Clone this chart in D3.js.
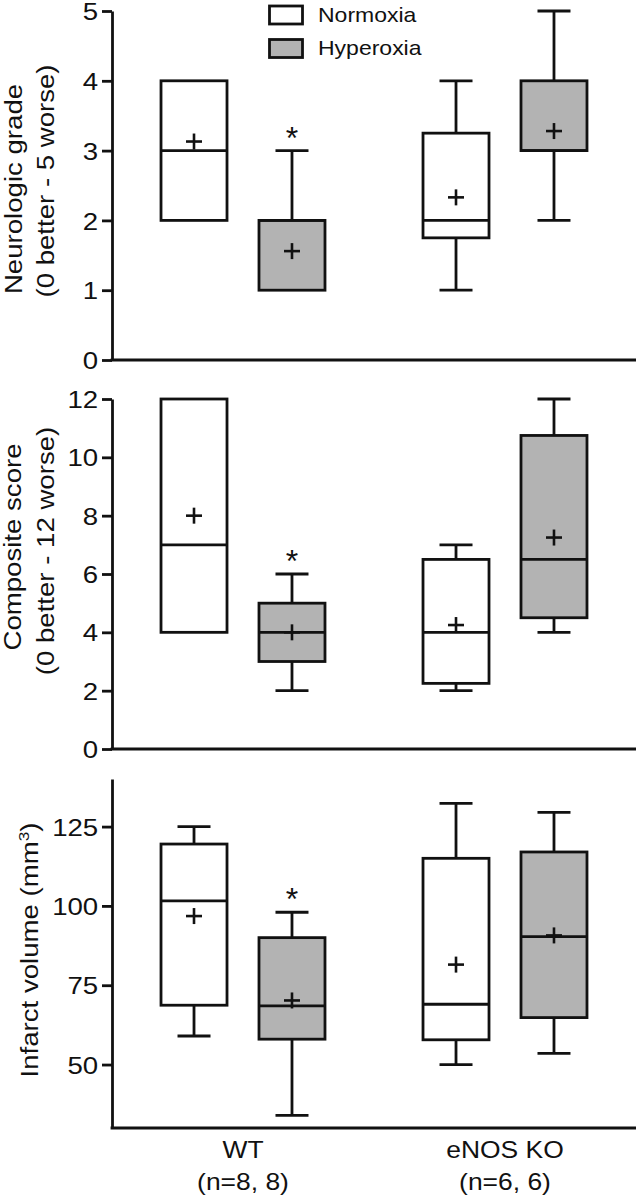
<!DOCTYPE html>
<html>
<head>
<meta charset="utf-8">
<script src="https://cdn.jsdelivr.net/npm/d3@7"></script>
<style>
  html, body { margin: 0; padding: 0; background: #fff; }
  svg { display: block; }
  text { font-family: "Liberation Sans", Arial, sans-serif; fill: #111; }
</style>
</head>
<body>
<svg id="chart" width="638" height="1200"></svg>
<script>
// ---------- data ----------
const groups = ["WT", "eNOS KO"];
const groupNotes = ["(n=8, 8)", "(n=6, 6)"];
const conditions = ["Normoxia", "Hyperoxia"];
// order of boxes: WT-Normoxia, WT-Hyperoxia, eNOS KO-Normoxia, eNOS KO-Hyperoxia
const significant = [false, true, false, false];

const neuroMin  = [2, 1, 1, 2];
const neuroQ1   = [2, 1, 1.75, 3];
const neuroMed  = [3, 2, 2, 3];
const neuroQ3   = [4, 2, 3.25, 4];
const neuroMax  = [4, 3, 4, 5];
const neuroMean = [3.13, 1.56, 2.33, 3.28];
const neuroTicks = [0, 1, 2, 3, 4, 5];

const compMin  = [4, 2, 2, 4];
const compQ1   = [4, 3, 2.25, 4.5];
const compMed  = [7, 4, 4, 6.5];
const compQ3   = [12, 5, 6.5, 10.75];
const compMax  = [12, 6, 7, 12];
const compMean = [8, 4, 4.25, 7.25];
const compTicks = [0, 2, 4, 6, 8, 10, 12];

const infMin  = [59, 34, 50, 53.5];
const infQ1   = [68.7, 58, 57.8, 64.8];
const infMed  = [101.6, 68.5, 69, 90.3];
const infQ3   = [119.5, 90, 115, 117];
const infMax  = [125, 98, 132.3, 129.5];
const infMean = [96.8, 70.2, 81.5, 90.7];
const infTicks = [50, 75, 100, 125];

// ---------- layout ----------
const svg = d3.select("#chart");
const X0 = 112, X1 = 636;
const SX = 1.15;           // horizontal glyph stretch seen in the reference
const GRAY = "#b3b3b3";
const SW = 2.8;

const xGroup = d3.scaleBand().domain(groups).range([X0, X1]).padding(0);
const xCond = d3.scalePoint().domain(conditions).range([0, xGroup.bandwidth()]).padding(0.837);
const boxW = 66, capW = 33;

function boxesFor(mins, q1s, meds, q3s, maxs, means) {
  const out = [];
  groups.forEach((g, gi) => conditions.forEach((c, ci) => {
    const i = gi * 2 + ci;
    out.push({g, c, ci, i, min: mins[i], q1: q1s[i], med: meds[i], q3: q3s[i], max: maxs[i], mean: means[i], sig: significant[i]});
  }));
  return out;
}

const panels = [
  {domain: [0, 5], range: [360, 11], ticks: neuroTicks,
   data: boxesFor(neuroMin, neuroQ1, neuroMed, neuroQ3, neuroMax, neuroMean),
   labels: [{t: "Neurologic grade", x: 21.5, cy: 189}, {t: "(0 better - 5 worse)", x: 54, cy: 181}]},
  {domain: [0, 12], range: [749, 399], ticks: compTicks,
   data: boxesFor(compMin, compQ1, compMed, compQ3, compMax, compMean),
   labels: [{t: "Composite score", x: 20.5, cy: 547}, {t: "(0 better - 12 worse)", x: 53.5, cy: 551}]},
  {domain: [30, 140], range: [1128, 779], ticks: infTicks,
   data: boxesFor(infMin, infQ1, infMed, infQ3, infMax, infMean),
   labels: [{t: "Infarct volume (mm", sup: "3", tail: ")", x: 37.5, cy: 950}]}
];

panels.forEach(p => {
  const y = d3.scaleLinear().domain(p.domain).range(p.range);
  const g = svg.append("g");

  // y axis
  const ax = g.append("g").attr("transform", `translate(${X0},0)`)
    .call(d3.axisLeft(y).tickValues(p.ticks).tickSize(10).tickSizeOuter(0).tickPadding(2).tickFormat(d3.format("d")));
  ax.select(".domain").attr("stroke", "#111").attr("stroke-width", SW);
  ax.selectAll(".tick line").attr("stroke", "#111").attr("stroke-width", SW);
  ax.selectAll(".tick text").attr("font-size", 24).attr("fill", "#111")
    .attr("font-family", "Liberation Sans, Arial, sans-serif")
    .attr("dy", "0.36em")
    .attr("transform", `scale(${SX},1)`);

  // x axis line
  g.append("line").attr("x1", X0 - SW / 2).attr("x2", X1).attr("y1", p.range[0]).attr("y2", p.range[0])
    .attr("stroke", "#111").attr("stroke-width", SW);

  // y label
  p.labels.forEach(l => {
    const t = g.append("text").attr("text-anchor", "middle").attr("font-size", 24)
      .attr("transform", `translate(${l.x},${l.cy}) rotate(-90) scale(${SX},1)`);
    t.append("tspan").text(l.t);
    if (l.sup) {
      t.append("tspan").attr("font-size", 15).attr("dy", -9).text(l.sup);
      t.append("tspan").attr("dy", 9).text(l.tail);
    }
  });

  // boxes
  const bx = d => xGroup(d.g) + xCond(d.c);
  const bg = g.selectAll(".box").data(p.data).join("g").attr("class", "box");
  const ls = sel => sel.attr("stroke", "#111").attr("stroke-width", SW).attr("fill", "none");

  // whiskers
  bg.filter(d => d.max > d.q3).append("line").call(ls)
    .attr("x1", bx).attr("x2", bx).attr("y1", d => y(d.q3)).attr("y2", d => y(d.max));
  bg.filter(d => d.max > d.q3).append("line").call(ls)
    .attr("x1", d => bx(d) - capW / 2).attr("x2", d => bx(d) + capW / 2).attr("y1", d => y(d.max)).attr("y2", d => y(d.max));
  bg.filter(d => d.min < d.q1).append("line").call(ls)
    .attr("x1", bx).attr("x2", bx).attr("y1", d => y(d.q1)).attr("y2", d => y(d.min));
  bg.filter(d => d.min < d.q1).append("line").call(ls)
    .attr("x1", d => bx(d) - capW / 2).attr("x2", d => bx(d) + capW / 2).attr("y1", d => y(d.min)).attr("y2", d => y(d.min));

  // box
  bg.append("rect").attr("x", d => bx(d) - boxW / 2).attr("width", boxW)
    .attr("y", d => y(d.q3)).attr("height", d => y(d.q1) - y(d.q3))
    .attr("fill", d => d.ci === 0 ? "#fff" : GRAY).attr("stroke", "#111").attr("stroke-width", SW);
  // median
  bg.append("line").call(ls)
    .attr("x1", d => bx(d) - boxW / 2).attr("x2", d => bx(d) + boxW / 2).attr("y1", d => y(d.med)).attr("y2", d => y(d.med));
  // mean plus
  bg.append("line").call(ls).attr("stroke-width", 2.6)
    .attr("x1", d => bx(d) - 8).attr("x2", d => bx(d) + 8).attr("y1", d => y(d.mean)).attr("y2", d => y(d.mean));
  bg.append("line").call(ls).attr("stroke-width", 2.6)
    .attr("x1", bx).attr("x2", bx).attr("y1", d => y(d.mean) - 8).attr("y2", d => y(d.mean) + 8);
  // significance
  bg.filter(d => d.sig).append("text").attr("text-anchor", "middle").attr("font-size", 32)
    .attr("x", bx).attr("y", d => y(d.max) - 2).text("*");
});

// x labels
groups.forEach((gname, gi) => {
  const cx = xGroup(gname) + xGroup.bandwidth() / 2;
  svg.append("text").attr("text-anchor", "middle").attr("font-size", 23)
    .attr("transform", `translate(${cx},1158) scale(${SX},1)`).text(gname);
  svg.append("text").attr("text-anchor", "middle").attr("font-size", 23)
    .attr("transform", `translate(${cx},1190) scale(${SX},1)`).text(groupNotes[gi]);
});

// legend
const legend = svg.append("g");
conditions.forEach((c, ci) => {
  const ly = [6, 39.5][ci];
  legend.append("rect").attr("x", 269.5).attr("y", ly).attr("width", 33).attr("height", 18)
    .attr("fill", ci === 0 ? "#fff" : GRAY).attr("stroke", "#111").attr("stroke-width", SW);
  legend.append("text").attr("font-size", 20)
    .attr("transform", `translate(318,${[21.7, 55][ci]}) scale(${SX},1)`).text(c);
});
</script>
</body>
</html>
